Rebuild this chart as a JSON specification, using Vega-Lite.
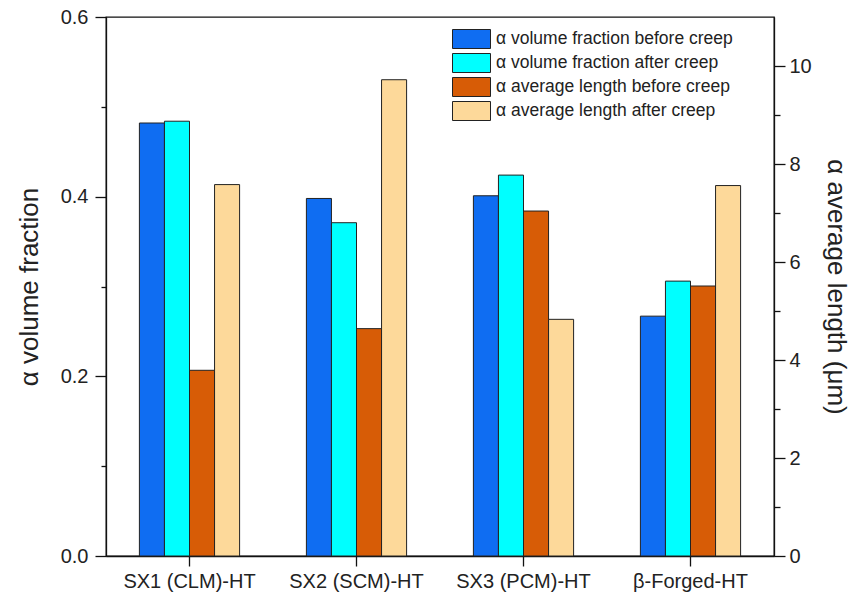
{
  "$schema": "https://vega.github.io/schema/vega-lite/v6.json",
  "width": 668,
  "height": 539,
  "autosize": {"type": "none"},
  "padding": {"left": 106, "top": 17, "right": 80, "bottom": 41},
  "background": "white",
  "config": {
    "font": "Liberation Sans",
    "view": {"stroke": "#111", "strokeWidth": 1.3},
    "axis": {"domainColor": "#111", "domainWidth": 1.3, "tickColor": "#111", "tickWidth": 1.3, "labelColor": "#222", "titleColor": "#222", "labelFont": "Liberation Sans", "titleFont": "Liberation Sans", "titleFontWeight": "normal", "grid": false}
  },
  "data": {
    "values": [
      {"cat": "SX1 (CLM)-HT", "series": "α volume fraction before creep", "m": "vol", "value": 0.482},
      {"cat": "SX1 (CLM)-HT", "series": "α volume fraction after creep", "m": "vol", "value": 0.484},
      {"cat": "SX1 (CLM)-HT", "series": "α average length before creep", "m": "len", "value": 3.79},
      {"cat": "SX1 (CLM)-HT", "series": "α average length after creep", "m": "len", "value": 7.58},
      {"cat": "SX2 (SCM)-HT", "series": "α volume fraction before creep", "m": "vol", "value": 0.398},
      {"cat": "SX2 (SCM)-HT", "series": "α volume fraction after creep", "m": "vol", "value": 0.371},
      {"cat": "SX2 (SCM)-HT", "series": "α average length before creep", "m": "len", "value": 4.64},
      {"cat": "SX2 (SCM)-HT", "series": "α average length after creep", "m": "len", "value": 9.72},
      {"cat": "SX3 (PCM)-HT", "series": "α volume fraction before creep", "m": "vol", "value": 0.401},
      {"cat": "SX3 (PCM)-HT", "series": "α volume fraction after creep", "m": "vol", "value": 0.424},
      {"cat": "SX3 (PCM)-HT", "series": "α average length before creep", "m": "len", "value": 7.04},
      {"cat": "SX3 (PCM)-HT", "series": "α average length after creep", "m": "len", "value": 4.83},
      {"cat": "β-Forged-HT", "series": "α volume fraction before creep", "m": "vol", "value": 0.267},
      {"cat": "β-Forged-HT", "series": "α volume fraction after creep", "m": "vol", "value": 0.306},
      {"cat": "β-Forged-HT", "series": "α average length before creep", "m": "len", "value": 5.51},
      {"cat": "β-Forged-HT", "series": "α average length after creep", "m": "len", "value": 7.56}
    ]
  },
  "encoding": {
    "x": {
      "field": "cat", "type": "nominal",
      "sort": ["SX1 (CLM)-HT", "SX2 (SCM)-HT", "SX3 (PCM)-HT", "β-Forged-HT"],
      "scale": {"paddingInner": 0.4, "paddingOuter": 0.2},
      "axis": {"title": null, "labelAngle": 0, "labelFontSize": 20, "tickSize": 10, "labelPadding": 5, "labelLimit": 300}
    },
    "xOffset": {
      "field": "series", "type": "nominal",
      "scale": {"domain": ["α volume fraction before creep", "α volume fraction after creep", "α average length before creep", "α average length after creep"]}
    },
    "color": {
      "field": "series", "type": "nominal",
      "scale": {
        "domain": ["α volume fraction before creep", "α volume fraction after creep", "α average length before creep", "α average length after creep"],
        "range": ["#0F6DF2", "#00FFFF", "#D75C06", "#FDD99A"]
      },
      "legend": {
        "title": null, "orient": "none", "legendX": 355.5, "legendY": 12,
        "symbolType": "M-2,-1H2V1H-2Z", "symbolSize": 361,
        "symbolStrokeColor": "#222", "symbolStrokeWidth": 1, "symbolOpacity": 1,
        "labelFontSize": 17.5, "labelColor": "#222", "labelFont": "Liberation Sans",
        "rowPadding": 0, "labelOffset": 14.5, "labelLimit": 400
      }
    }
  },
  "layer": [
    {
      "transform": [{"filter": "datum.m == 'vol'"}],
      "mark": {"type": "bar", "stroke": "#222", "strokeWidth": 1, "opacity": 1},
      "encoding": {
        "y": {
          "field": "value", "type": "quantitative",
          "scale": {"domain": [0, 0.6], "nice": false, "zero": true},
          "axis": {
            "title": "α volume fraction", "titleFontSize": 26, "titlePadding": 18,
            "values": [0, 0.1, 0.2, 0.3, 0.4, 0.5, 0.6],
            "labelExpr": "round(datum.value*10) % 2 == 0 ? format(datum.value, '.1f') : ''",
            "labelOverlap": false, "labelFontSize": 20, "labelPadding": 7,
            "tickSize": {"condition": {"test": "round(datum.value*10) % 2 == 0", "value": 11}, "value": 5}
          }
        }
      }
    },
    {
      "transform": [{"filter": "datum.m == 'len'"}],
      "mark": {"type": "bar", "stroke": "#222", "strokeWidth": 1, "opacity": 1},
      "encoding": {
        "y": {
          "field": "value", "type": "quantitative",
          "scale": {"domain": [0, 11], "nice": false, "zero": true},
          "axis": {
            "orient": "right",
            "title": "α average length (μm)", "titleFontSize": 26, "titlePadding": 11,
            "values": [0, 1, 2, 3, 4, 5, 6, 7, 8, 9, 10],
            "labelExpr": "round(datum.value) % 2 == 0 ? format(datum.value, 'd') : ''",
            "labelOverlap": false, "labelFontSize": 20, "labelPadding": 4,
            "tickSize": {"condition": {"test": "round(datum.value) % 2 == 0", "value": 11}, "value": 6}
          }
        }
      }
    }
  ],
  "resolve": {"scale": {"y": "independent"}}
}
